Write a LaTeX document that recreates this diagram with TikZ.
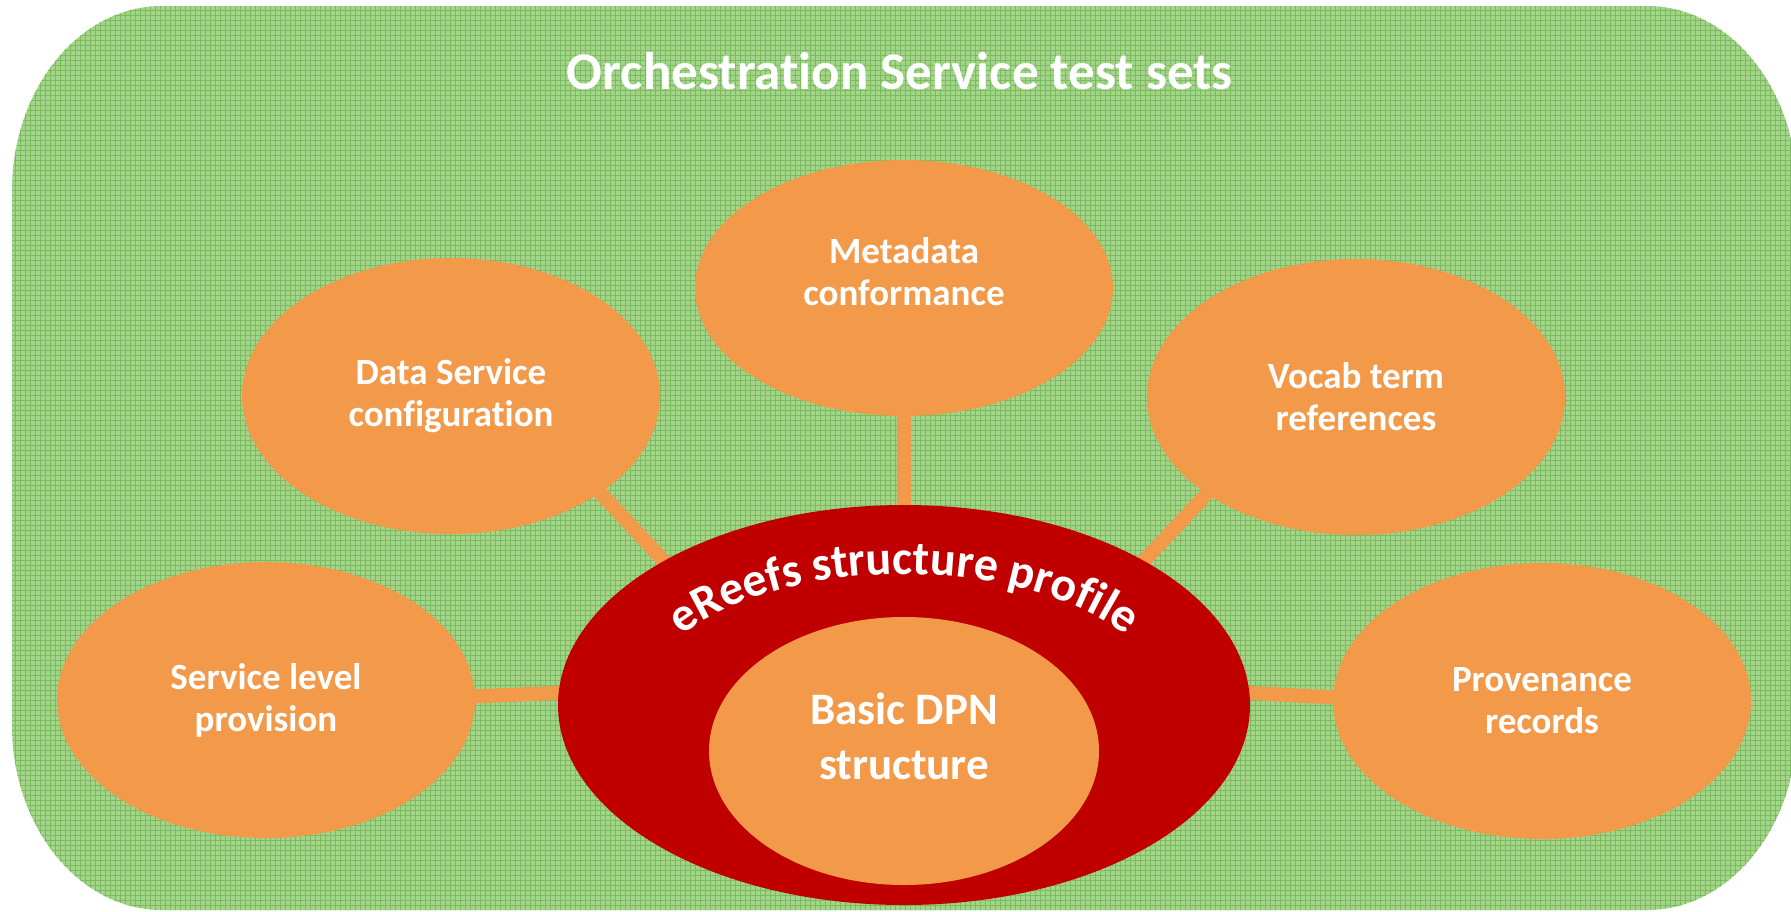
\documentclass[tikz,border=0pt]{standalone}
\usepackage{fontspec}
\setmainfont{Carlito}[Ligatures=NoCommon]
\usepackage{tikz}
\usetikzlibrary{positioning,shapes.geometric,backgrounds,decorations.text}
\definecolor{OrangeFill}{RGB}{243,153,74}
\definecolor{RingRed}{RGB}{192,0,0}
\definecolor{GrassLight}{RGB}{164,212,140}
\definecolor{GrassLine}{RGB}{122,188,92}
\newcommand{\curvefont}{\fontsize{24}{24}\selectfont\bfseries}

\begin{document}
\begin{tikzpicture}[x=0.5pt, y=0.5pt,
    blob/.style={ellipse, fill=OrangeFill, minimum width=209pt, minimum height=138pt,
        inner sep=0pt, font=\fontsize{18.5}{21}\selectfont\bfseries, text=white, align=center},
    ring/.style={ellipse, fill=RingRed, minimum width=346pt, minimum height=200pt},
    blobtext/.style={font=\fontsize{18.5}{21}\selectfont\bfseries, text=white, align=center},
    coretext/.style={font=\fontsize{22.5}{27.5}\selectfont\bfseries, text=white, align=center},
    heading/.style={font=\fontsize{26.5}{30}\selectfont\bfseries, text=white},
    link/.style={draw=OrangeFill, line width=7pt, shorten <=-6pt, shorten >=-6pt},
]
\useasboundingbox (0,0) rectangle (1791,-911);

\node[heading] (title) at (900,-71) {Orchestration Service test sets};

% outer test sets
\node[blob, minimum height=128pt] (meta) at (904,-288) {};
\node[blobtext] (metatext) at ([yshift=8pt]meta.center) {Metadata\\conformance};
\node[blob] (ds) at (451,-396) {Data Service\\configuration};
\node[blob] (voc) at (1356,-397) {Vocab term\\references};
\node[blob] (sl) at (266,-700) {Service level\\provision};
\node[blob] (prov) at (1542,-701) {Provenance\\records};

% profile and core
\node[ring] (red) at (904,-705) {};
\node[blob, minimum width=195pt, minimum height=134pt] (core) at (904,-751) {};
\node[coretext] (coretxt) at ([yshift=7.5pt]core.center) {Basic DPN\\structure};
\path[decorate, decoration={text along path, text align=center, text color=white,
    text={|\curvefont|eReefs structure profile}}]
    ([xshift=-131pt]red.center) arc[start angle=180, end angle=0, x radius=131pt, y radius=65.5pt];

\begin{scope}[on background layer]
\fill[GrassLight, path picture={
    \draw[GrassLine, line width=0.5pt, step=2.5pt] (0,0) grid (1800,-911);}]
    (162,-6) -- (1647,-6) arc[start angle=90, end angle=0, x radius=75pt, y radius=92.5pt]
    -- (1797,-725) arc[start angle=0, end angle=-90, x radius=75pt, y radius=92.5pt]
    -- (162,-910) arc[start angle=270, end angle=180, x radius=75pt, y radius=92.5pt]
    -- (12,-191) arc[start angle=180, end angle=90, x radius=75pt, y radius=92.5pt] -- cycle;
\draw[link] (meta.south) -- (red.north);
\draw[link] (ds.-33) -- (red.149);
\draw[link] (voc.-147) -- (red.31);
\draw[link] (sl.1) -- (red.178);
\draw[link] (prov.179) -- (red.2);
\end{scope}
\end{tikzpicture}
\end{document}
